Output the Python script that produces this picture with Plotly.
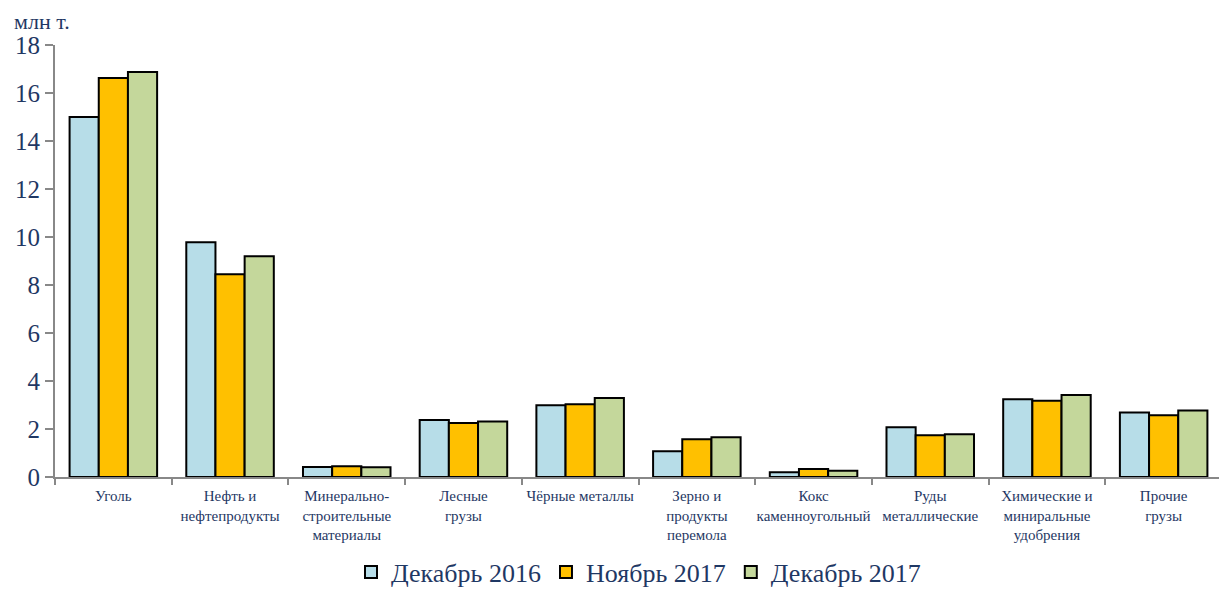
import plotly.graph_objects as go

categories = ["Уголь", "Нефть и<br>нефтепродукты", "Минерально-<br>строительные<br>материалы",
              "Лесные<br>грузы", "Чёрные металлы", "Зерно и<br>продукты<br>перемола",
              "Кокс<br>каменноугольный", "Руды<br>металлические",
              "Химические и<br>миниральные<br>удобрения", "Прочие<br>грузы"]
dec2016 = [15.0, 9.78, 0.42, 2.37, 2.99, 1.07, 0.2, 2.07, 3.24, 2.69]
nov2017 = [16.62, 8.45, 0.45, 2.25, 3.03, 1.57, 0.33, 1.74, 3.18, 2.57]
dec2017 = [16.87, 9.2, 0.41, 2.31, 3.29, 1.66, 0.26, 1.78, 3.42, 2.77]
series_names = ["Декабрь 2016", "Ноябрь 2017", "Декабрь 2017"]
colors = ["#B7DDE8", "#FFC000", "#C4D79B"]
yticks = [0, 2, 4, 6, 8, 10, 12, 14, 16, 18]

navy = "#1F3864"
serif = "Liberation Serif"
fig = go.Figure()
for name, vals, c in zip(series_names, [dec2016, nov2017, dec2017], colors):
    fig.add_trace(go.Bar(x=categories, y=vals, name=name,
                         marker=dict(color=c, line=dict(color="black", width=2))))

fig.update_layout(
    width=1219, height=581,
    margin=dict(l=47, r=5, t=37, b=112, autoexpand=False),
    paper_bgcolor="white", plot_bgcolor="white",
    barmode="group", bargap=0.25, bargroupgap=0,
    font=dict(family=serif, color=navy),
    showlegend=True,
    legend=dict(orientation="h", x=0.5, xanchor="center", y=-0.166, yanchor="top",
                font=dict(family=serif, size=26, color=navy), itemwidth=30,
                traceorder="normal"),
    annotations=[dict(text="млн т.", xref="paper", yref="paper", x=-0.036, y=1.0856,
                      xanchor="left", yanchor="top", showarrow=False, borderpad=0,
                      font=dict(family=serif, size=22, color=navy))],
)
fig.update_yaxes(range=[0, 18], tickvals=yticks, showgrid=False, showline=True,
                 linecolor="#888888", linewidth=2, ticks="outside", ticklen=8,
                 tickcolor="#888888", tickwidth=2,
                 tickfont=dict(family=serif, size=25, color=navy), zeroline=False)
fig.update_xaxes(showgrid=False, showline=True, linecolor="#888888", linewidth=2,
                 ticks="outside", tickson="boundaries", ticklen=6, tickcolor="#888888",
                 tickwidth=2, ticklabelstandoff=4,
                 tickfont=dict(family=serif, size=15, color=navy), tickangle=0)

fig.write_html("out.html")
